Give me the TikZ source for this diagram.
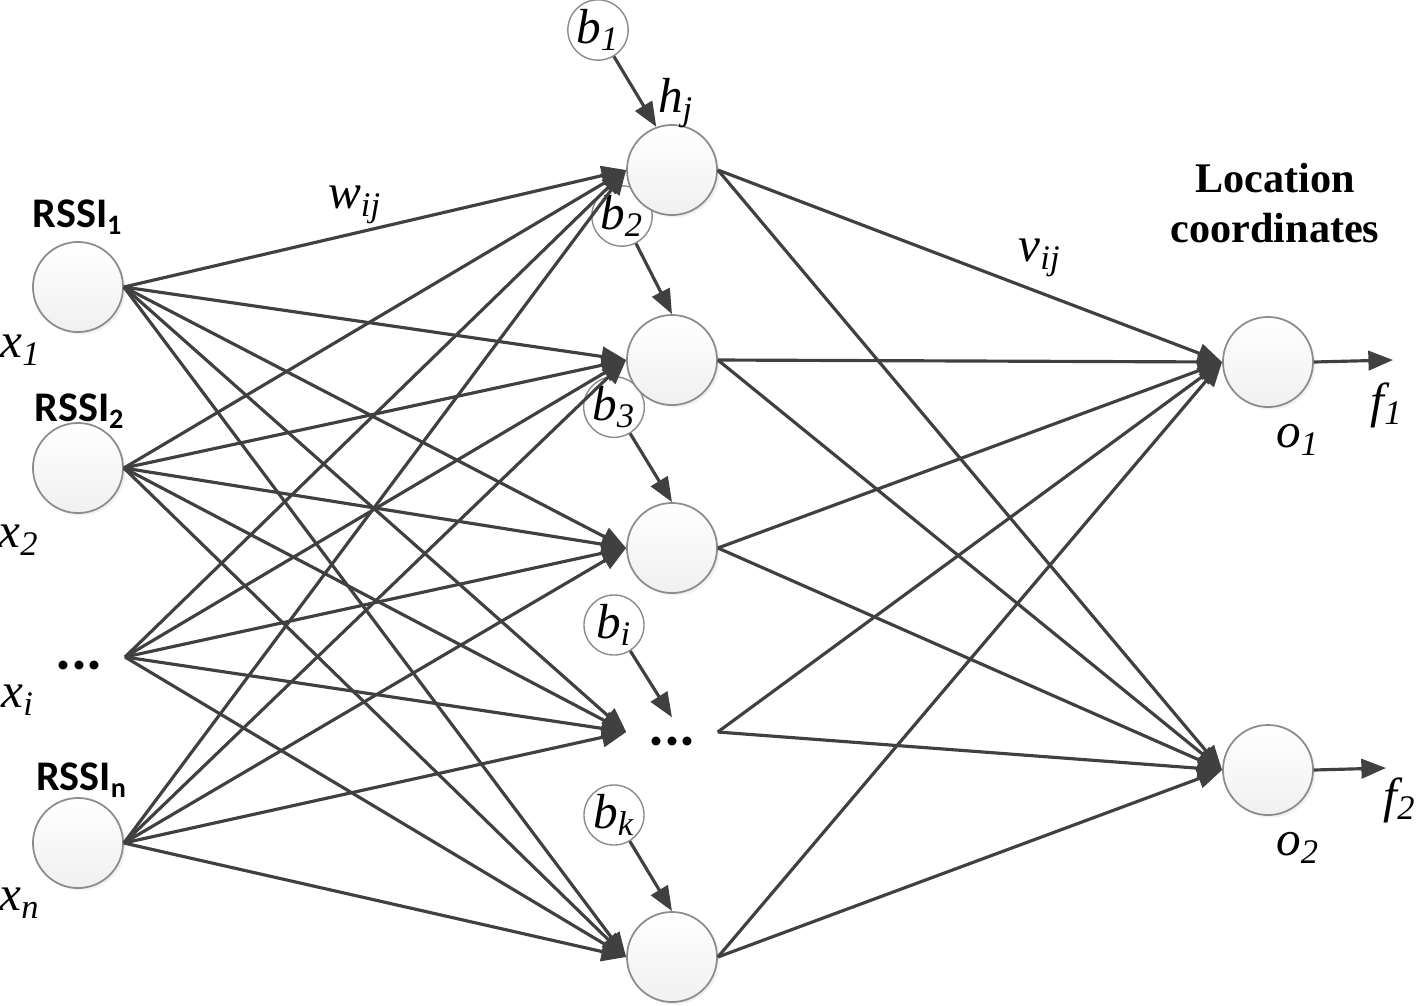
\documentclass[tikz,border=0pt]{standalone}
\usepackage{fontspec}
\setmainfont{Liberation Serif}
\newfontfamily\rssifont{Carlito}
\usetikzlibrary{arrows.meta,shadows}

\begin{document}
\begin{tikzpicture}[x=0.01cm,y=-0.01cm,
        neuron/.style={circle,draw=gray!90,line width=0.5pt,top color=white,bottom color=gray!12,
            minimum size=0.9cm,inner sep=0pt,
            drop shadow={opacity=0.12,shadow xshift=0.7pt,shadow yshift=-0.7pt}},
        bias/.style={circle,draw=gray!90,line width=0.4pt,fill=white,minimum size=0.6cm,inner sep=0pt,
            font=\fontsize{14}{16}\selectfont\itshape},
        wire/.style={draw=black!75,line width=0.9pt,-{Triangle[length=7pt,width=5.5pt]}},
        every edge/.style={wire},
        var/.style={font=\fontsize{14}{16}\selectfont\itshape,inner sep=0pt},
        rssi/.style={font=\rssifont\fontsize{12}{14}\selectfont\bfseries,inner sep=0pt},
        dots/.style={font=\rssifont\fontsize{17}{17}\selectfont\bfseries,inner sep=0pt},
        title/.style={font=\fontsize{12}{14.2}\selectfont\bfseries,align=center,inner sep=0pt}]

            \useasboundingbox (0,0) rectangle (1418,1005);

            % biases
            \node[bias] (b1) at (598,30) {b\textsubscript{1}};
            \node[bias] (b2) at (622,216) {b\textsubscript{2}};
            \node[bias] (b3) at (614,407) {b\textsubscript{3}};
            \node[bias] (bi) at (614,625) {b\textsubscript{i}};
            \node[bias] (bk) at (614,815) {b\textsubscript{k}};

            % input layer
            \node[neuron] (x1) at (78,287) {};
            \node[neuron] (x2) at (78,468) {};
            \coordinate (xi) at (125,657);
            \node[neuron] (xn) at (78,843) {};

            % hidden layer
            \node[neuron] (h1) at (672,170) {};
            \node[neuron] (h2) at (672,360) {};
            \node[neuron] (h3) at (672,548) {};
            \node[minimum width=0.9cm,minimum height=0.28cm,inner sep=0pt] (hi) at (672,732) {};
            \node[neuron] (hk) at (672,957) {};

            % output layer
            \node[neuron] (o1) at (1268,362) {};
            \node[neuron] (o2) at (1268,770) {};
            \coordinate (f1end) at (1393,360);
            \coordinate (f2end) at (1386,768);

            % labels
            \node[rssi] (r1) at (78,217) {RSSI\textsubscript{1}};
            \node[rssi] (r2) at (80,411) {RSSI\textsubscript{2}};
            \node[rssi] (rn) at (82,780) {RSSI\textsubscript{n}};
            \node[var] (lx1) at (21,350) {x\textsubscript{1}};
            \node[var] (lx2) at (19,540) {x\textsubscript{2}};
            \node[var] (lxi) at (18,700) {x\textsubscript{i}};
            \node[var] (lxn) at (20,903) {x\textsubscript{n}};
            \node[dots] (xdots) at (79,665) {...};
            \node[dots] (hdots) at (672,741) {...};
            \node[var] (w) at (355,205) {w\textsubscript{ij}};
            \node[var] (v) at (1040,258) {v\textsubscript{ij}};
            \node[var] (hj) at (676,103) {h\textsubscript{j}};
            \node[title] (loc) at (1275,203) {Location\\coordinates};
            \node[var] (lo1) at (1298,440) {o\textsubscript{1}};
            \node[var] (lf1) at (1387,405) {f\textsubscript{1}};
            \node[var] (lo2) at (1298,848) {o\textsubscript{2}};
            \node[var] (lf2) at (1400,800) {f\textsubscript{2}};

            \path (x1.east) edge (h1.west) edge (h2.west) edge (h3.west) edge (hi.west) edge (hk.west);
            \path (x2.east) edge (h1.west) edge (h2.west) edge (h3.west) edge (hi.west) edge (hk.west);
            \path (xi) edge (h1.west) edge (h2.west) edge (h3.west) edge (hi.west) edge (hk.west);
            \path (xn.east) edge (h1.west) edge (h2.west) edge (h3.west) edge (hi.west) edge (hk.west);

            \path (h1.east) edge (o1.west) edge (o2.west);
            \path (h2.east) edge (o1.west) edge (o2.west);
            \path (h3.east) edge (o1.west) edge (o2.west);
            \path (hi.east) edge (o1.west) edge (o2.west);
            \path (hk.east) edge (o1.west) edge (o2.west);

            \draw[wire] (b1) -- (h1.110);
            \draw[wire] (b2) -- (h2.north);
            \draw[wire] (b3) -- (h3.north);
            \draw[wire] (bi) -- (hi.north);
            \draw[wire] (bk) -- (hk.north);

            \draw[wire] (o1.east) -- (f1end);
            \draw[wire] (o2.east) -- (f2end);

        \end{tikzpicture}
\end{document}
